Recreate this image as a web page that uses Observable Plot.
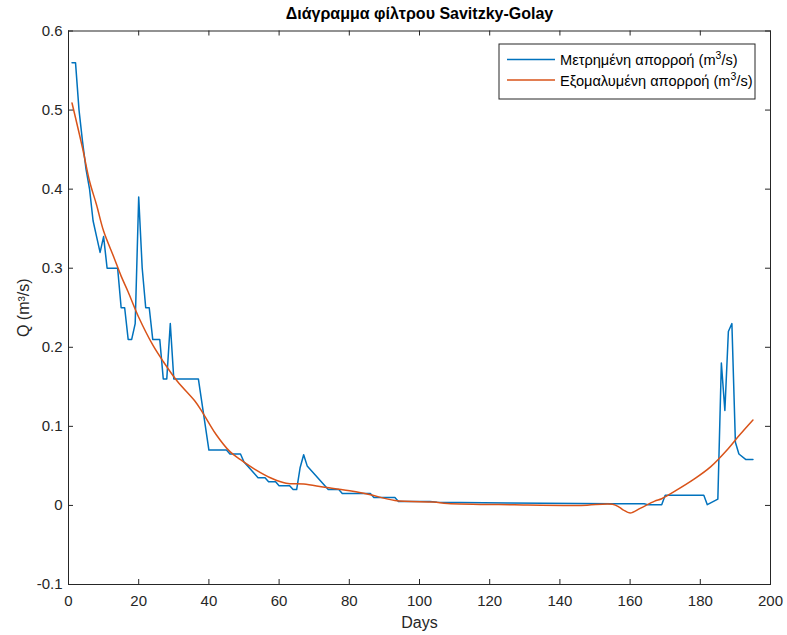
<!DOCTYPE html>
<html><head><meta charset="utf-8">
<script src="https://cdn.jsdelivr.net/npm/d3@7"></script>
<script src="https://cdn.jsdelivr.net/npm/@observablehq/plot@0.6"></script>
<style>body{margin:0;background:#fff;}</style>
</head><body><div id="chart"></div>
<script>
// ---- data ----
const measuredDays = [1, 2, 3, 4, 5, 6, 7, 8, 9, 10, 11, 14, 15, 16, 17, 18, 19, 20, 21, 22, 23, 24, 26, 27, 28, 29, 30, 37, 40, 45, 46, 49, 50, 54, 56, 57, 59, 60, 63, 64, 65, 66, 67, 68, 74, 77, 78, 86, 87, 93, 94, 103, 105, 125, 155, 164, 165, 169, 170, 181, 182, 185, 186, 187, 188, 189, 190, 191, 193, 195];
const measuredQ    = [0.56, 0.56, 0.50, 0.46, 0.425, 0.40, 0.36, 0.34, 0.32, 0.34, 0.30, 0.30, 0.25, 0.25, 0.21, 0.21, 0.23, 0.39, 0.30, 0.25, 0.25, 0.21, 0.21, 0.16, 0.16, 0.23, 0.16, 0.16, 0.07, 0.07, 0.065, 0.065, 0.055, 0.035, 0.035, 0.03, 0.03, 0.025, 0.025, 0.02, 0.02, 0.048, 0.064, 0.05, 0.02, 0.02, 0.015, 0.015, 0.01, 0.01, 0.005, 0.005, 0.004, 0.003, 0.002, 0.002, 0.001, 0.001, 0.013, 0.013, 0.001, 0.008, 0.18, 0.12, 0.22, 0.23, 0.08, 0.065, 0.058, 0.058];

const smoothDays = [1, 4, 6, 8, 10, 13, 15, 17, 20, 24, 27, 31, 36, 38, 42, 46, 49, 53, 58, 62, 67, 73, 81, 86, 93, 104, 108, 127, 146, 155, 157, 158, 160, 163, 167, 169, 173, 178, 183, 188, 191, 195];
const smoothQ    = [0.509, 0.452, 0.41, 0.38, 0.347, 0.313, 0.29, 0.27, 0.238, 0.203, 0.182, 0.157, 0.132, 0.119, 0.09, 0.068, 0.058, 0.046, 0.034, 0.028, 0.027, 0.023, 0.018, 0.0135, 0.0063, 0.0042, 0.0025, 0.0008, 0, 0.0015, -0.0025, -0.0055, -0.0097, -0.0034, 0.0055, 0.0085, 0.0186, 0.0325, 0.049, 0.072, 0.088, 0.108];

const xTicks = [0, 20, 40, 60, 80, 100, 120, 140, 160, 180, 200];
const yTicks = [-0.1, 0, 0.1, 0.2, 0.3, 0.4, 0.5, 0.6];
const titleText = "Διάγραμμα φίλτρου Savitzky-Golay";
const xLabel = "Days";
const yLabel = "Q (m³/s)";
const legendLabels = ["Μετρημένη απορροή", "Εξομαλυμένη απορροή"];
const seriesColors = ["#0072BD", "#D95319"];

// ---- layout ----
const W = 787, H = 635, mL = 68, mR = 17, mT = 30.5, mB = 51;
const fw = W - mL - mR, fh = H - mT - mB;
const tick = 5;
const axisColor = "#262626";
const font = "'Liberation Sans', Arial, Helvetica, sans-serif";

const measured = measuredDays.map((d, i) => ({day: d, q: measuredQ[i]}));
const smooth = smoothDays.map((d, i) => ({day: d, q: smoothQ[i]}));

function legend(index, scales, values, dims) {
  const right = dims.width - dims.marginRight;
  const bw = 256, bh = 55;
  const bx = right - 15 - bw, by = dims.marginTop + 13.5;
  const g = d3.create("svg:g").attr("text-anchor", "start");
  g.append("rect").attr("x", bx).attr("y", by).attr("width", bw).attr("height", bh)
    .attr("fill", "white").attr("stroke", axisColor).attr("stroke-width", 1);
  legendLabels.forEach((lab, i) => {
    const yy = by + 15.5 + i * 20.5;
    g.append("line").attr("x1", bx + 8).attr("x2", bx + 56).attr("y1", yy).attr("y2", yy)
      .attr("stroke", seriesColors[i]).attr("stroke-width", 1.5);
    const t = g.append("text").attr("x", bx + 61).attr("y", yy).attr("dy", "0.38em")
      .attr("text-anchor", "start")
      .attr("font-family", font).attr("font-size", 14.6).attr("fill", "#000");
    t.append("tspan").text(lab + " (m");
    t.append("tspan").attr("baseline-shift", "super").attr("font-size", 10.5).text("3");
    t.append("tspan").text("/s)");
  });
  return g.node();
}

const chart = Plot.plot({
  width: W, height: H,
  marginLeft: mL, marginRight: mR, marginTop: mT, marginBottom: mB,
  style: {background: "white", color: axisColor, fontFamily: font},
  x: {domain: [0, 200]},
  y: {domain: [-0.1, 0.6]},
  marks: [
    Plot.line(measured, {x: "day", y: "q", stroke: seriesColors[0], strokeWidth: 1.5}),
    Plot.line(smooth, {x: "day", y: "q", stroke: seriesColors[1], strokeWidth: 1.5, curve: "catmull-rom"}),
    Plot.frame({stroke: axisColor, strokeWidth: 1}),
    Plot.tickX(xTicks, {x: d => d, insetTop: fh - tick, stroke: axisColor}),
    Plot.tickX(xTicks, {x: d => d, insetBottom: fh - tick, stroke: axisColor}),
    Plot.tickY(yTicks, {y: d => d, insetRight: fw - tick, stroke: axisColor}),
    Plot.tickY(yTicks, {y: d => d, insetLeft: fw - tick, stroke: axisColor}),
    Plot.axisX({ticks: xTicks, tickSize: 0, tickPadding: 11, tickFormat: d => String(d), fontSize: 15, label: null}),
    Plot.axisY({ticks: yTicks, tickSize: 0, tickPadding: 6, tickFormat: d => String(d), fontSize: 15, label: null}),
    Plot.text([titleText], {text: d => d, frameAnchor: "top", lineAnchor: "middle", textAnchor: "middle", dy: -17.5, fontSize: 16, fontWeight: "bold", fill: "#000"}),
    Plot.text([xLabel], {text: d => d, frameAnchor: "bottom", lineAnchor: "middle", textAnchor: "middle", dy: 38.5, fontSize: 16, fill: axisColor}),
    Plot.text([yLabel], {text: d => d, frameAnchor: "left", lineAnchor: "middle", textAnchor: "middle", dx: -45, rotate: -90, fontSize: 16, fill: axisColor}),
    legend
  ]
});
document.getElementById("chart").appendChild(chart);
</script>
</body></html>
